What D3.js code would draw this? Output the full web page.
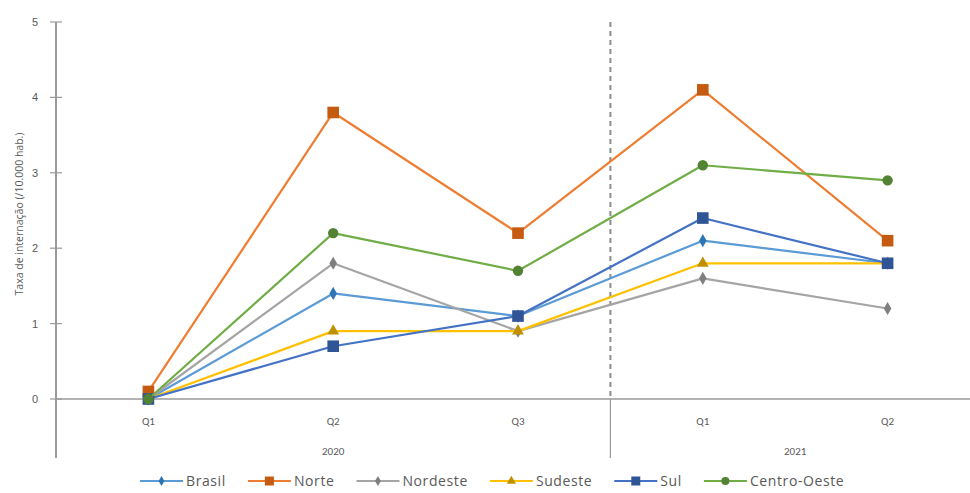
<!DOCTYPE html>
<html>
<head>
<meta charset="utf-8">
<script src="https://cdn.jsdelivr.net/npm/d3@7"></script>
<style>
  html, body { margin: 0; padding: 0; background: #fff; }
  svg { display: block; font-family: Calibri, Carlito, Lato, "Liberation Sans", sans-serif; }
</style>
</head>
<body>
<svg id="chart" width="970" height="493"></svg>
<script>
// Quarters grouped by year
const quarters = ["Q1", "Q2", "Q3", "Q1", "Q2"];
const yearGroups = [{ year: "2020", from: 0, to: 3 }, { year: "2021", from: 3, to: 5 }];
const yTicks = [0, 1, 2, 3, 4, 5];

// Hospitalisation rate per 10,000 inhabitants
const brasil = [0, 1.4, 1.1, 2.1, 1.8];
const norte = [0.1, 3.8, 2.2, 4.1, 2.1];
const nordeste = [0, 1.8, 0.9, 1.6, 1.2];
const sudeste = [0, 0.9, 0.9, 1.8, 1.8];
const sul = [0, 0.7, 1.1, 2.4, 1.8];
const centroOeste = [0, 2.2, 1.7, 3.1, 2.9];

const seriesNames = ["Brasil", "Norte", "Nordeste", "Sudeste", "Sul", "Centro-Oeste"];
const seriesValues = [brasil, norte, nordeste, sudeste, sul, centroOeste];
const lineColors = ["#5B9BD5", "#ED7D31", "#A5A5A5", "#FFC000", "#4472C4", "#70AD47"];
const markerColors = ["#2E75B6", "#C55A11", "#7F7F7F", "#BF9000", "#2F5597", "#548235"];
const markerShapes = [d3.symbolDiamond, d3.symbolSquare, d3.symbolDiamond, d3.symbolTriangle, d3.symbolSquare, d3.symbolCircle];
const markerSizes = [50, 135, 50, 60, 135, 85];

const svg = d3.select("#chart");
const plot = { left: 56, right: 980, top: 22, bottom: 399 };

const x = d3.scaleBand().domain(d3.range(quarters.length)).range([plot.left, plot.right]);
const y = d3.scaleLinear().domain([0, 5]).range([plot.bottom, plot.top]);
const cx = i => x(i) + x.bandwidth() / 2;
const axisColor = "#9a9a9a";
const textColor = "#595959";

// Y axis with ticks crossing the line
const yAxis = d3.axisLeft(y).tickValues(yTicks).tickSize(0).tickPadding(18).tickFormat(d3.format("d"));
const gy = svg.append("g").attr("transform", `translate(${plot.left},0)`).call(yAxis);
gy.select(".domain").remove();
gy.selectAll("text").attr("fill", textColor).attr("font-size", 11);
gy.selectAll(".crossTick").data(yTicks).join("line")
  .attr("x1", -6).attr("x2", 6).attr("y1", d => y(d)).attr("y2", d => y(d))
  .attr("stroke", axisColor).attr("stroke-width", 1.2);
gy.append("line").attr("x1", 0).attr("x2", 0).attr("y1", plot.top).attr("y2", 458)
  .attr("stroke", axisColor).attr("stroke-width", 2);

// Horizontal baseline
svg.append("line").attr("x1", plot.left).attr("x2", 970).attr("y1", y(0)).attr("y2", y(0))
  .attr("stroke", axisColor).attr("stroke-width", 1.5);

// Year separator (solid below axis, dashed through plot)
const sepX = x(3);
svg.append("line").attr("x1", sepX).attr("x2", sepX).attr("y1", y(0)).attr("y2", 458)
  .attr("stroke", axisColor).attr("stroke-width", 1.2);
svg.append("line").attr("x1", sepX).attr("x2", sepX).attr("y1", plot.top).attr("y2", y(0))
  .attr("stroke", "#8c8c8c").attr("stroke-width", 2).attr("stroke-dasharray", "5,4");

// Quarter labels
svg.append("g").selectAll("text").data(quarters).join("text")
  .attr("x", (d, i) => cx(i)).attr("y", 425)
  .attr("text-anchor", "middle").attr("font-size", 11).attr("fill", textColor).text(d => d);

// Year labels
svg.append("g").selectAll("text").data(yearGroups).join("text")
  .attr("x", d => (x(d.from) + x(d.to - 1) + x.bandwidth()) / 2).attr("y", 455)
  .attr("text-anchor", "middle").attr("font-size", 11).attr("fill", textColor).text(d => d.year);

// Y axis title
svg.append("text").attr("transform", "translate(23,214) rotate(-90)")
  .attr("text-anchor", "middle").attr("font-size", 10.5).attr("fill", textColor)
  .attr("font-family", "'Open Sans', sans-serif")
  .text("Taxa de internação (/10.000 hab.)");

// Series lines and markers
const line = d3.line().x((d, i) => cx(i)).y(d => y(d));
seriesValues.forEach((vals, s) => {
  const g = svg.append("g");
  g.append("path").datum(vals).attr("d", line).attr("fill", "none")
    .attr("stroke", lineColors[s]).attr("stroke-width", 2.2).attr("stroke-linejoin", "round");
  g.selectAll("path.m").data(vals).join("path").attr("class", "m")
    .attr("d", d3.symbol().type(markerShapes[s]).size(markerSizes[s]))
    .attr("transform", (d, i) => `translate(${cx(i)},${y(d)})`)
    .attr("fill", markerColors[s]);
});

// Legend laid out left to right from measured text widths
const lg = svg.append("g").attr("transform", "translate(0,481)");
let lx = 140;
seriesNames.forEach((name, s) => {
  const g = lg.append("g").attr("transform", `translate(${lx},0)`);
  g.append("line").attr("x1", 0).attr("x2", 43).attr("y1", 0).attr("y2", 0)
    .attr("stroke", lineColors[s]).attr("stroke-width", 2.2);
  g.append("path").attr("d", d3.symbol().type(markerShapes[s]).size(markerSizes[s] * 0.6))
    .attr("transform", "translate(21.5,0)").attr("fill", markerColors[s]);
  const t = g.append("text").attr("x", 46).attr("y", 5)
    .attr("font-family", "'Open Sans', sans-serif").attr("font-size", 14)
    .attr("letter-spacing", 0.6).attr("fill", textColor).text(name);
  lx += 46 + t.node().getComputedTextLength() + 22;
});
</script>
</body>
</html>
